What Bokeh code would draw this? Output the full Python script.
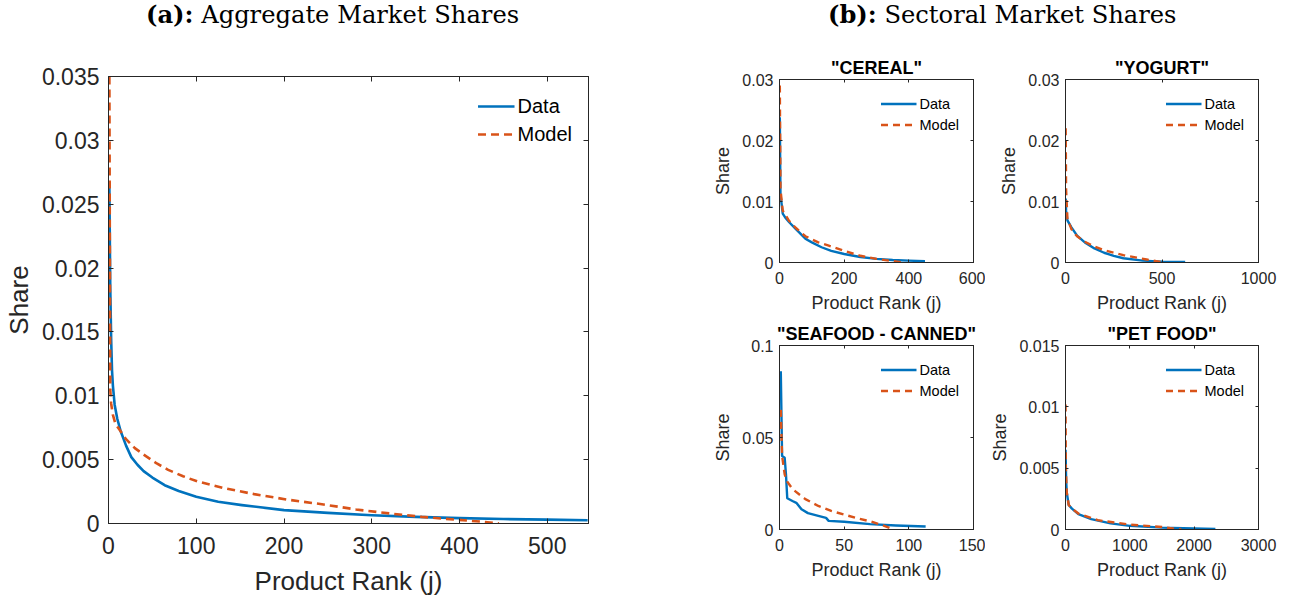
from bokeh.plotting import figure
from bokeh.models import (Range1d, FixedTicker, LinearAxis, Legend, LegendItem, Div,
                          CustomJSTickFormatter)
from bokeh.layouts import row, column
from bokeh.embed import file_html
from bokeh.resources import INLINE

# ---------------- data ----------------
# (a) aggregate market shares
agg_data_rank = [1, 2, 3, 4, 5, 7, 10, 14, 20, 26, 33, 40, 50, 64, 80, 100, 125, 152, 200,
                 250, 300, 350, 400, 450, 500, 546]
agg_data_share = [0.0264, 0.0185, 0.0145, 0.0120, 0.0108, 0.0093, 0.0082, 0.0072, 0.0061,
                  0.0052, 0.0046, 0.0041, 0.0036, 0.0030, 0.00255, 0.0021, 0.0017, 0.00144,
                  0.00105, 0.00083, 0.00065, 0.00052, 0.00042, 0.00035, 0.00030, 0.00026]
agg_model_rank = [1, 2, 3, 5, 8, 14, 20, 30, 40, 55, 68, 85, 101, 133, 166, 203, 245, 282,
                  320, 357, 394, 427, 445]
agg_model_share = [0.0350, 0.0105, 0.0094, 0.0085, 0.0078, 0.0072, 0.0066, 0.0059, 0.0054,
                   0.0047, 0.0042, 0.0037, 0.0033, 0.00275, 0.0023, 0.00188, 0.00149, 0.0011,
                   0.00079, 0.00052, 0.00031, 0.00013, 0.0]
agg_xticks = [0, 100, 200, 300, 400, 500]
agg_yticks = [0, 0.005, 0.01, 0.015, 0.02, 0.025, 0.03, 0.035]

# (b) sectoral market shares
cereal_data_rank = [1, 3, 10, 20, 30, 50, 80, 100, 130, 160, 200, 250, 300, 350, 400, 450]
cereal_data_share = [0.0238, 0.0112, 0.0080, 0.0072, 0.0066, 0.0055, 0.0039, 0.0033, 0.0025,
                     0.0019, 0.0014, 0.0009, 0.0006, 0.0004, 0.0003, 0.0002]
cereal_model_rank = [1, 3, 10, 30, 50, 80, 120, 150, 200, 250, 300, 340, 380]
cereal_model_share = [0.029, 0.012, 0.0085, 0.0068, 0.0057, 0.0043, 0.0033, 0.0028, 0.0019,
                      0.0011, 0.0006, 0.0003, 0.0]
cereal_xticks = [0, 200, 400, 600]
cereal_yticks = [0, 0.01, 0.02, 0.03]

yogurt_data_rank = [1, 3, 10, 30, 60, 100, 150, 200, 250, 300, 400, 500, 620]
yogurt_data_share = [0.0105, 0.0085, 0.0069, 0.0058, 0.0044, 0.0033, 0.0023, 0.0016, 0.0011,
                     0.0007, 0.0003, 0.00015, 0.0001]
yogurt_model_rank = [1, 3, 10, 30, 60, 100, 150, 200, 300, 420, 510]
yogurt_model_share = [0.022, 0.012, 0.0072, 0.0055, 0.0043, 0.0034, 0.0026, 0.0020, 0.0012,
                      0.0005, 0.0]
yogurt_xticks = [0, 500, 1000]
yogurt_yticks = [0, 0.01, 0.02, 0.03]

seafood_data_rank = [1, 2, 4, 5, 6, 10, 13, 17, 22, 30, 36, 38, 50, 70, 90, 113]
seafood_data_share = [0.086, 0.040, 0.039, 0.030, 0.017, 0.0155, 0.0145, 0.011, 0.0089,
                      0.0074, 0.0063, 0.0047, 0.0042, 0.0029, 0.0022, 0.0016]
seafood_model_rank = [1, 2, 4, 6, 10, 20, 30, 40, 50, 60, 70, 80, 88]
seafood_model_share = [0.065, 0.040, 0.030, 0.026, 0.022, 0.0165, 0.0128, 0.0101, 0.0081,
                       0.0061, 0.0045, 0.0022, 0.0]
seafood_xticks = [0, 50, 100, 150]
seafood_yticks = [0, 0.05, 0.1]

pet_data_rank = [1, 10, 20, 50, 100, 200, 400, 700, 1000, 1500, 2000, 2330]
pet_data_share = [0.0065, 0.0040, 0.0030, 0.0020, 0.0017, 0.00125, 0.00084, 0.0005, 0.0003,
                  0.00015, 0.00008, 0.00005]
pet_model_rank = [1, 5, 20, 50, 100, 200, 500, 1000, 1500, 1800]
pet_model_share = [0.0102, 0.005, 0.003, 0.002, 0.0017, 0.0013, 0.00076, 0.0004, 0.0002, 0.0]
pet_xticks = [0, 1000, 2000, 3000]
pet_yticks = [0, 0.005, 0.01, 0.015]

# ---------------- styling ----------------
BLUE = "#0072BD"
ORANGE = "#D95319"
AX = "#262626"
SANS = "Liberation Sans"


def style_axis(ax, tick_len, fs_tick, fs_label, tick_standoff, label_standoff):
    ax.axis_line_color = AX
    ax.major_tick_line_color = AX
    ax.major_tick_in = tick_len
    ax.major_tick_out = 0
    ax.minor_tick_line_color = None
    ax.major_label_text_font = SANS
    ax.major_label_text_font_size = f"{fs_tick}px"
    ax.major_label_text_color = AX
    ax.major_label_standoff = tick_standoff
    ax.axis_label_text_font = SANS
    ax.axis_label_text_font_size = f"{fs_label}px"
    ax.axis_label_text_font_style = "normal"
    ax.axis_label_text_color = AX
    ax.axis_label_standoff = label_standoff


def make_panel(width, height, bl, br, bt, bb, xmax, ymax, xticks, yticks,
               data_x, data_y, model_x, model_y, cfg, title=None):
    p = figure(width=width, height=height, output_backend="svg", toolbar_location=None,
               x_range=Range1d(0, xmax), y_range=Range1d(0, ymax), title=title,
               min_border_left=bl, min_border_right=br, min_border_top=bt,
               min_border_bottom=bb)
    p.background_fill_color = "white"
    p.border_fill_color = "white"
    p.outline_line_color = AX
    p.grid.visible = False
    if title is not None:
        p.title.text_font = SANS
        p.title.text_font_size = f"{cfg['fs_title']}px"
        p.title.text_font_style = "bold"
        p.title.text_color = "black"
        p.title.align = "center"
        p.title.standoff = cfg["title_standoff"]
    p.xaxis.ticker = FixedTicker(ticks=xticks)
    p.yaxis.ticker = FixedTicker(ticks=yticks)
    fmt = CustomJSTickFormatter(code="return tick.toString();")
    p.xaxis.formatter = fmt
    p.yaxis.formatter = fmt
    p.xaxis.axis_label = "Product Rank (j)"
    p.yaxis.axis_label = "Share"
    style_axis(p.xaxis[0], cfg["tick_len"], cfg["fs_tick"], cfg["fs_label"],
               cfg["x_tick_standoff"], cfg["x_label_standoff"])
    style_axis(p.yaxis[0], cfg["tick_len"], cfg["fs_tick"], cfg["fs_label"],
               cfg["y_tick_standoff"], cfg["y_label_standoff"])
    # mirrored ticks on the top and right (box on)
    for loc, ticks in (("right", yticks), ("above", xticks)):
        ax = LinearAxis(ticker=FixedTicker(ticks=ticks),
                        formatter=CustomJSTickFormatter(code="return '';"))
        ax.axis_line_color = AX
        ax.major_tick_line_color = AX
        ax.major_tick_in = cfg["tick_len"]
        ax.major_tick_out = 0
        ax.minor_tick_line_color = None
        ax.major_label_text_color = None
        ax.major_label_text_font_size = "1px"
        ax.major_label_standoff = 0
        p.add_layout(ax, loc)

    r_data = p.line(data_x, data_y, line_color=BLUE, line_width=cfg["lw"], line_join="round")
    r_model = p.line(model_x, model_y, line_color=ORANGE, line_width=cfg["lw"],
                     line_dash=cfg["dash"], line_join="round")
    legend = Legend(items=[LegendItem(label="Data", renderers=[r_data]),
                           LegendItem(label="Model", renderers=[r_model])],
                    location="top_right", border_line_color=None,
                    background_fill_color="white", background_fill_alpha=1.0,
                    padding=0, margin=cfg["leg_margin"], spacing=0,
                    glyph_width=cfg["leg_glyph_w"], glyph_height=cfg["leg_row"],
                    label_height=cfg["leg_row"], label_standoff=3,
                    label_text_font=SANS, label_text_font_size=f"{cfg['fs_legend']}px",
                    label_text_color="black", label_text_baseline="middle")
    p.add_layout(legend)
    return p


main_cfg = dict(tick_len=5, fs_tick=23, fs_label=26, x_tick_standoff=13, x_label_standoff=9,
                y_tick_standoff=9, y_label_standoff=5, lw=2.6, dash="8 5", leg_margin=16,
                leg_glyph_w=37, leg_row=28, fs_legend=20, fs_title=17, title_standoff=4)
sub_cfg = dict(tick_len=3, fs_tick=16, fs_label=18, x_tick_standoff=9, x_label_standoff=6,
               y_tick_standoff=6, y_label_standoff=6, lw=2.4, dash="7 5", leg_margin=14,
               leg_glyph_w=36, leg_row=21, fs_legend=14.5, fs_title=18, title_standoff=3)

# page origin is (0, 0): headings take the first 46 px
main = make_panel(628, 554, 107, 40, 30, 77, 547, 0.035, agg_xticks, agg_yticks,
                  agg_data_rank, agg_data_share, agg_model_rank, agg_model_share, main_cfg)

cereal = make_panel(357, 272, 151, 12, 33, 56, 600, 0.03, cereal_xticks, cereal_yticks,
                    cereal_data_rank, cereal_data_share, cereal_model_rank, cereal_model_share,
                    sub_cfg, title='"CEREAL"')
yogurt = make_panel(293, 272, 80, 20, 33, 56, 1000, 0.03, yogurt_xticks, yogurt_yticks,
                    yogurt_data_rank, yogurt_data_share, yogurt_model_rank, yogurt_model_share,
                    sub_cfg, title='"YOGURT"')
seafood = make_panel(357, 278, 151, 12, 27, 67, 150, 0.1, seafood_xticks, seafood_yticks,
                     seafood_data_rank, seafood_data_share, seafood_model_rank,
                     seafood_model_share, sub_cfg, title='"SEAFOOD - CANNED"')
pet = make_panel(293, 278, 80, 20, 27, 67, 3000, 0.015, pet_xticks, pet_yticks,
                 pet_data_rank, pet_data_share, pet_model_rank, pet_model_share,
                 sub_cfg, title='"PET FOOD"')

head_style = ("font-family:'DejaVu Serif'; font-size:24.2px; line-height:1; color:#000;"
              " position:relative; top:3px; white-space:nowrap; padding-left:%dpx;")
div_a = Div(text='<div style="%s"><b>(a):</b> Aggregate Market Shares</div>' % (head_style % 146),
            width=628, height=46, margin=(0, 0, 0, 0))
div_b = Div(text='<div style="%s"><b>(b):</b> Sectoral Market Shares</div>' % (head_style % 200),
            width=650, height=46, margin=(0, 0, 0, 0))

left = column(div_a, main, spacing=0)
right = column(div_b, row(cereal, yogurt, spacing=0), row(seafood, pet, spacing=0), spacing=0)
layout = row(left, right, spacing=0)

open("out.html", "w").write(file_html(layout, INLINE))
